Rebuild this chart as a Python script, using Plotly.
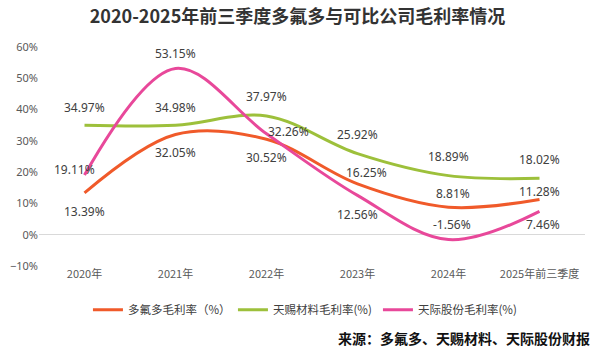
import plotly.graph_objects as go

categories = ["2020年", "2021年", "2022年", "2023年", "2024年", "2025年前三季度"]
dfd = [13.39, 32.05, 30.52, 16.25, 8.81, 11.28]
tc = [34.97, 34.98, 37.97, 25.92, 18.89, 18.02]
tj = [19.11, 53.15, 32.26, 12.56, -1.56, 7.46]
names = ["多氟多毛利率（%）", "天赐材料毛利率(%)", "天际股份毛利率(%)"]
colors = ["#f05a2a", "#9dc03b", "#e8489a"]

# label offsets (xshift, yshift) per point
dfd_off = [(0, -19), (0, -18), (0, -18), (9, 11), (4, 14), (0, 8)]
tc_off = [(0, 18), (0, 18), (0, 19), (0, 19), (0, 19), (0, 19)]
tj_off = [(-10, 5), (0, 15), (22, 2), (0, -19), (3, 15), (3, -13)]

fig = go.Figure()
series = [dfd, tc, tj]
offs = [dfd_off, tc_off, tj_off]
for vals, name, col in zip(series, names, colors):
    fig.add_trace(go.Scatter(x=categories, y=vals, mode="lines", name=name,
                             line=dict(color=col, width=3, shape="spline", smoothing=1.0),
                             hoverinfo="skip"))

annotations = []
for vals, off in zip(series, offs):
    for c, v, (dx, dy) in zip(categories, vals, off):
        annotations.append(dict(x=c, y=v, text=f"{v:.2f}%", showarrow=False,
                                xshift=dx, yshift=dy,
                                font=dict(family="Noto Sans, Noto Sans CJK SC", size=12, color="#404040")))

annotations.append(dict(x=1, xref="paper", xanchor="right", y=-0.33, yref="paper", yanchor="middle",
                        xshift=7,
                        text="<b>来源：多氟多、天赐材料、天际股份财报</b>", showarrow=False,
                        font=dict(family="Noto Sans CJK SC", size=14, color="#111111")))

fig.update_layout(
    width=595, height=352,
    margin=dict(l=37, r=10, t=47, b=86),
    paper_bgcolor="white", plot_bgcolor="white",
    title=dict(text="<b>2020-2025年前三季度多氟多与可比公司毛利率情况</b>", x=0.5, xanchor="center",
               y=0.952, yanchor="middle",
               font=dict(family="Noto Sans CJK SC", size=18, color="#333333")),
    xaxis=dict(showgrid=False, showline=False, ticks="", zeroline=False,
               tickfont=dict(family="Noto Sans CJK SC", size=11, color="#595959"),
               range=[-0.5, 5.5]),
    yaxis=dict(range=[-10, 60], dtick=10, ticksuffix="%", showgrid=False, zeroline=True,
               zerolinecolor="#d9d9d9", zerolinewidth=1, showline=False,
               tickfont=dict(family="Noto Sans", size=11, color="#595959")),
    legend=dict(orientation="h", x=0.488, xanchor="center", y=-0.2, yanchor="middle",
                font=dict(family="Noto Sans CJK SC", size=11.5, color="#404040"),
                itemwidth=30, tracegroupgap=0, entrywidth=100),
    annotations=annotations,
    hovermode=False,
)

fig.write_html("out.html")
